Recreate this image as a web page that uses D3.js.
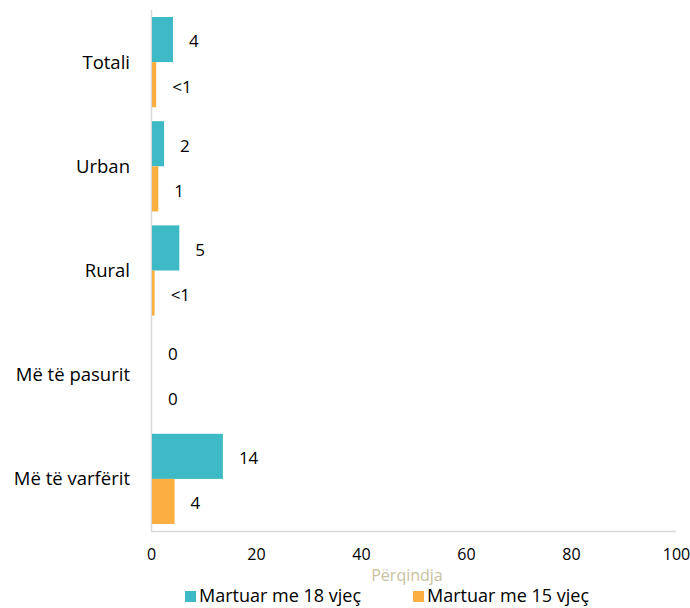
<!DOCTYPE html>
<html><head><meta charset="utf-8">
<script src="https://cdn.jsdelivr.net/npm/d3@7"></script>
<style>body{margin:0;background:#fff}svg{display:block}text{font-family:"Open Sans",sans-serif}</style>
</head><body>
<svg id="c" width="690" height="608"></svg>
<script>
const categories = ["Totali","Urban","Rural","Më të pasurit","Më të varfërit"];
const seriesNames = ["Martuar me 18 vjeç","Martuar me 15 vjeç"];
const married18 = [4.0, 2.3, 5.2, 0, 13.5];
const married15 = [0.8, 1.2, 0.5, 0, 4.3];
const labels18 = ["4","2","5","0","14"];
const labels15 = ["<1","1","<1","0","4"];
const xTicks = [0,20,40,60,80,100];
const colors = ["#3DBAC6","#FAAF40"];

(function(){
const FONT = "'Open Sans',sans-serif";
const svg = d3.select("#c");
const mLeft = 151, mRight = 676, mTop = 10, mBottom = 531;
const x = d3.scaleLinear().domain([0,100]).range([mLeft,mRight]);
const y = d3.scaleBand().domain(categories).range([mTop,mBottom]).paddingInner(0.134).paddingOuter(0.067);
const sub = d3.scaleBand().domain([0,1]).range([0,y.bandwidth()]);

const data = [];
categories.forEach((c,i)=>{
  data.push({c, s:0, v:married18[i], l:labels18[i]});
  data.push({c, s:1, v:married15[i], l:labels15[i]});
});

svg.append("line").attr("x1",mLeft+0.5).attr("x2",mLeft+0.5).attr("y1",mTop).attr("y2",mBottom)
  .attr("stroke","#d9d9d9").attr("stroke-width",1.5);
svg.append("line").attr("x1",mLeft).attr("x2",mRight).attr("y1",mBottom+0.5).attr("y2",mBottom+0.5)
  .attr("stroke","#d9d9d9").attr("stroke-width",1.5);

svg.append("g").selectAll("rect").data(data).join("rect")
  .attr("x",x(0)+1)
  .attr("y",d=>y(d.c)+sub(d.s))
  .attr("width",d=>Math.max(0,x(d.v)-x(0)))
  .attr("height",sub.bandwidth())
  .attr("fill",d=>colors[d.s]);

svg.append("g").selectAll("text").data(data).join("text")
  .attr("x",d=>x(d.v)+17)
  .attr("y",d=>y(d.c)+sub(d.s)+sub.bandwidth()/2+2)
  .attr("dy","0.35em")
  .attr("font-size",17).attr("fill","#000")
  .text(d=>d.l);

svg.append("g").selectAll("text").data(categories).join("text")
  .attr("x",130).attr("y",d=>y(d)+y.bandwidth()/2)
  .attr("dy","0.35em").attr("text-anchor","end")
  .attr("font-size",18.5).attr("fill","#000").text(d=>d);

const ax = svg.append("g").attr("transform",`translate(0,${mBottom})`)
  .call(d3.axisBottom(x).tickValues(xTicks).tickSize(0).tickPadding(18));
ax.select(".domain").remove();
ax.selectAll("text").attr("font-size",16).attr("fill","#000").attr("font-family",FONT);

svg.append("text").attr("x",407).attr("y",575).attr("dy","0.35em").attr("text-anchor","middle")
  .attr("font-size",16).attr("fill","#c9c19f").text("Përqindja");

const lg = svg.append("g");
const lx = [185, 413];
seriesNames.forEach((n,i)=>{
  lg.append("rect").attr("x",lx[i]).attr("y",591).attr("width",11).attr("height",11).attr("fill",colors[i]);
  lg.append("text").attr("x",lx[i]+14).attr("y",596).attr("dy","0.35em")
    .attr("font-size",18).attr("fill","#000").text(n);
});
})();
</script>
</body></html>
